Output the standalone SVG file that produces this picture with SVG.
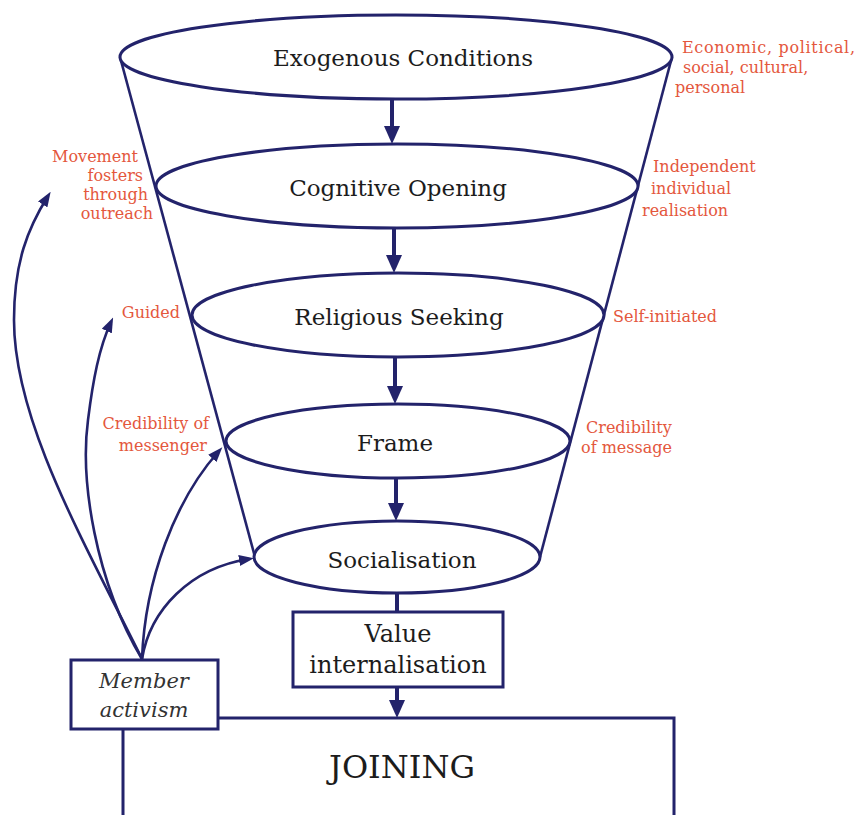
<svg xmlns="http://www.w3.org/2000/svg" width="858" height="815" viewBox="0 0 858 815">
<style>
.bg{fill:#ffffff}
.shape{fill:#ffffff;stroke:#23236b;stroke-width:3}
.cone{fill:none;stroke:#23236b;stroke-width:2.6}
.vline{fill:none;stroke:#23236b;stroke-width:4}
.curve{fill:none;stroke:#23236b;stroke-width:2.6}
.node{font-family:"DejaVu Serif","Liberation Serif",serif;font-size:23px;fill:#1c1c1c;text-anchor:middle}
.lab{font-family:"DejaVu Serif","Liberation Serif",serif;font-size:16px;fill:#e4573d}
.end{text-anchor:end}
</style>
<defs>
<marker id="ah" markerUnits="userSpaceOnUse" viewBox="0 0 18 16" markerWidth="18" markerHeight="16" refX="9" refY="8" orient="auto">
<path d="M0,0 L18,8 L0,16 z" fill="#23236b"/>
</marker>
<marker id="ahs" markerUnits="userSpaceOnUse" viewBox="0 0 15 11" markerWidth="15" markerHeight="11" refX="10" refY="5.5" orient="auto">
<path d="M0,0 L15,5.5 L0,11 z" fill="#23236b"/>
</marker>
</defs>
<rect class="bg" x="0" y="0" width="858" height="815"/>

<g id="cone">
<line class="cone" x1="120" y1="57" x2="255" y2="557"/>
<line class="cone" x1="672" y1="57" x2="540" y2="557"/>
</g>

<g id="joining">
<rect class="shape" x="123" y="718" width="551" height="120"/>
<text class="node" x="402" y="778" style="font-size:32px">JOINING</text>
</g>

<g id="exogenous">
<ellipse class="shape" cx="396" cy="57" rx="276" ry="42"/>
<text class="node" x="403" y="66">Exogenous Conditions</text>
</g>
<g id="cognitive">
<ellipse class="shape" cx="397" cy="186" rx="241" ry="42"/>
<text class="node" x="398" y="196">Cognitive Opening</text>
</g>
<g id="religious">
<ellipse class="shape" cx="398" cy="315" rx="206" ry="42"/>
<text class="node" x="399" y="325">Religious Seeking</text>
</g>
<g id="frame">
<ellipse class="shape" cx="398" cy="441" rx="172" ry="37"/>
<text class="node" x="395" y="451">Frame</text>
</g>
<g id="socialisation">
<ellipse class="shape" cx="397" cy="557" rx="143" ry="36"/>
<text class="node" x="402" y="568">Socialisation</text>
</g>
<g id="value">
<rect class="shape" x="293" y="612" width="210" height="75"/>
<text class="node" x="398" y="642" style="font-size:24px">Value</text>
<text class="node" x="398" y="673" style="font-size:24px">internalisation</text>
</g>

<g id="connectors">
<path class="vline" d="M392,99 V135" marker-end="url(#ah)"/>
<path class="vline" d="M394,228 V264" marker-end="url(#ah)"/>
<path class="vline" d="M395,357 V395" marker-end="url(#ah)"/>
<path class="vline" d="M396,478 V512" marker-end="url(#ah)"/>
<path class="vline" d="M397,593 V612"/>
<path class="vline" d="M397,687 V709" marker-end="url(#ah)"/>
<path class="curve" d="M142,659 C82,538 14,420 14,320 C14,262 28,228 48,196" marker-end="url(#ahs)"/>
<path class="curve" d="M142,659 C95,580 80,480 88,420 C93,380 99,348 111,322" marker-end="url(#ahs)"/>
<path class="curve" d="M142,659 C145,580 175,500 219,451" marker-end="url(#ahs)"/>
<path class="curve" d="M142,659 C150,610 190,568 249,559" marker-end="url(#ahs)"/>
</g>

<g id="member">
<rect class="shape" x="71" y="660" width="147" height="69"/>
<text class="node" x="144" y="688" style="font-size:21px;font-style:italic;fill:#333">Member</text>
<text class="node" x="144" y="717" style="font-size:21px;font-style:italic;fill:#333">activism</text>
</g>

<g id="labels">
<text class="lab" x="682" y="53" textLength="173">Economic, political,</text>
<text class="lab" x="683" y="73">social, cultural,</text>
<text class="lab" x="675" y="93">personal</text>
<text class="lab" x="653" y="172">Independent</text>
<text class="lab" x="651" y="194">individual</text>
<text class="lab" x="642" y="216">realisation</text>
<text class="lab" x="613" y="322">Self-initiated</text>
<text class="lab" x="586" y="433">Credibility</text>
<text class="lab" x="581" y="453">of message</text>
<text class="lab end" x="138" y="162">Movement</text>
<text class="lab end" x="143" y="181">fosters</text>
<text class="lab end" x="148" y="200">through</text>
<text class="lab end" x="153" y="219">outreach</text>
<text class="lab end" x="180" y="318">Guided</text>
<text class="lab end" x="209" y="429">Credibility of</text>
<text class="lab end" x="207" y="451">messenger</text>
</g>
</svg>
